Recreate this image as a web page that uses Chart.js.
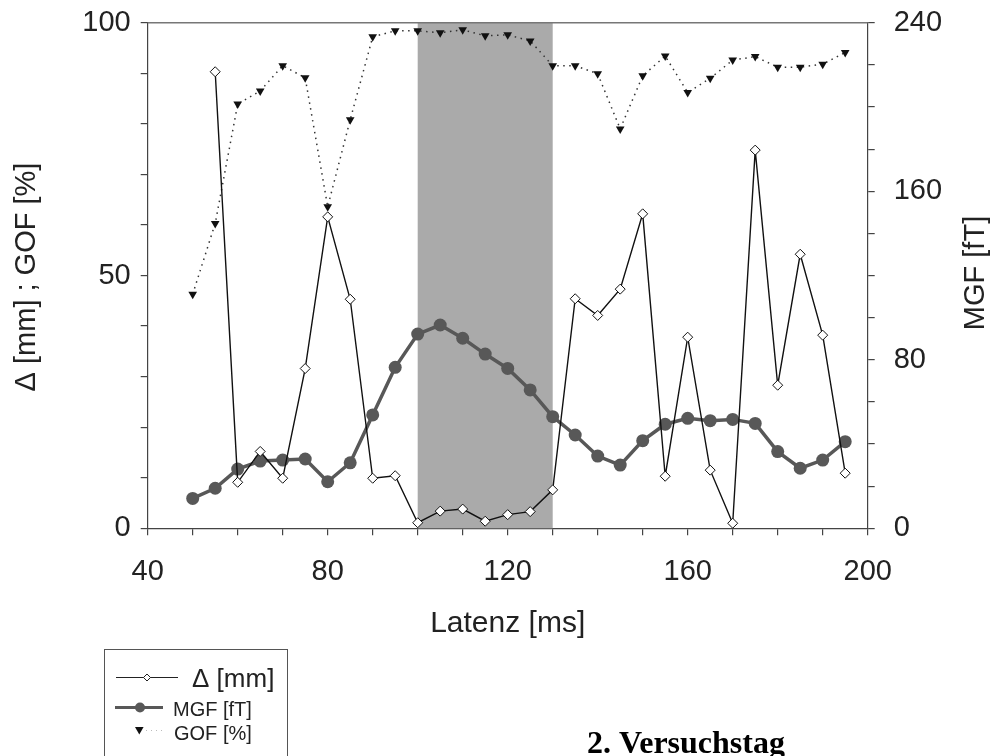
<!DOCTYPE html>
<html>
<head>
<meta charset="utf-8">
<script src="https://cdn.jsdelivr.net/npm/chart.js@4/dist/chart.umd.min.js"></script>
<style>
  html, body { margin: 0; padding: 0; background: #fff; }
  #wrap { width: 994px; height: 756px; position: relative; }
</style>
</head>
<body>
<div id="wrap"><canvas id="chart" width="994" height="756"></canvas></div>
<script>
// Latency steps [ms]
const latency = [50, 55, 60, 65, 70, 75, 80, 85, 90, 95, 100, 105, 110, 115, 120,
                 125, 130, 135, 140, 145, 150, 155, 160, 165, 170, 175, 180, 185, 190, 195];
// Delta [mm] (left axis)
const delta = [null, 90.3, 9.1, 15.2, 9.9, 31.6, 61.6, 45.3, 9.9, 10.4, 1.1, 3.4, 3.8, 1.4, 2.7,
               3.3, 7.6, 45.4, 42.1, 47.3, 62.2, 10.3, 37.8, 11.5, 1.0, 74.8, 28.3, 54.2, 38.2, 10.9];
// MGF [fT] (right axis)
const mgf = [14.2, 19.0, 28.1, 31.9, 32.4, 32.9, 22.1, 31.1, 53.8, 76.4, 92.2, 96.5, 90.2, 82.7, 75.9,
             65.7, 53.0, 44.3, 34.3, 30.0, 41.6, 49.4, 52.2, 51.1, 51.7, 49.8, 36.4, 28.5, 32.4, 41.1];
// GOF [%] (left axis)
const gof = [46.3, 60.3, 83.9, 86.5, 91.5, 89.1, 63.6, 80.8, 97.2, 98.4, 98.4, 98.0, 98.6, 97.4, 97.6,
             96.4, 91.5, 91.5, 89.9, 79.0, 89.5, 93.4, 86.2, 89.0, 92.6, 93.3, 91.2, 91.2, 91.8, 94.1];
// shaded latency window
const bandRange = [100, 130];
// labelled ticks
const xLabels = [40, 80, 120, 160, 200];
const leftLabels = [0, 50, 100];
const rightLabels = [0, 80, 160, 240];

const sans = "'Liberation Sans', Arial, sans-serif";
const toPts = arr => latency.map((x, i) => ({ x, y: arr[i] }));

// grey window + top frame line behind the series
const bandPlugin = {
  id: 'band',
  beforeDatasetsDraw(chart) {
    const { ctx, chartArea, scales } = chart;
    const x0 = scales.x.getPixelForValue(bandRange[0]);
    const x1 = scales.x.getPixelForValue(bandRange[1]);
    ctx.save();
    ctx.fillStyle = '#aaaaaa';
    ctx.fillRect(x0, chartArea.top, x1 - x0, chartArea.bottom - chartArea.top);
    ctx.strokeStyle = '#777';
    ctx.lineWidth = 1.5;
    ctx.beginPath();
    ctx.moveTo(chartArea.left, chartArea.top);
    ctx.lineTo(chartArea.right, chartArea.top);
    ctx.stroke();
    ctx.restore();
  }
};

// axis titles, legend box, caption
const decoPlugin = {
  id: 'deco',
  afterDraw(chart) {
    const { ctx, chartArea } = chart;
    ctx.save();
    ctx.fillStyle = '#222';
    ctx.textAlign = 'center';
    ctx.textBaseline = 'middle';

    ctx.font = '30px ' + sans;
    ctx.fillText('Latenz [ms]', (chartArea.left + chartArea.right) / 2, 624);

    ctx.font = '29px ' + sans;
    ctx.save();
    ctx.translate(27, 277);
    ctx.rotate(-Math.PI / 2);
    ctx.fillText('\u0394 [mm] ; GOF [%]', 0, 0);
    ctx.restore();

    ctx.save();
    ctx.translate(976, 273);
    ctx.rotate(-Math.PI / 2);
    ctx.fillText('MGF [fT]', 0, 0);
    ctx.restore();

    // legend box
    ctx.strokeStyle = '#555';
    ctx.lineWidth = 1;
    ctx.strokeRect(104.5, 649.5, 183, 120);

    // row 1: delta
    ctx.strokeStyle = '#222';
    ctx.lineWidth = 1;
    ctx.beginPath();
    ctx.moveTo(116, 677.5); ctx.lineTo(178, 677.5);
    ctx.stroke();
    ctx.fillStyle = '#fff';
    ctx.beginPath();
    ctx.moveTo(147, 674); ctx.lineTo(150.5, 677.5); ctx.lineTo(147, 681); ctx.lineTo(143.5, 677.5);
    ctx.closePath();
    ctx.fill(); ctx.stroke();

    // row 2: MGF
    ctx.strokeStyle = '#585858';
    ctx.lineWidth = 3;
    ctx.beginPath();
    ctx.moveTo(115, 707.5); ctx.lineTo(163, 707.5);
    ctx.stroke();
    ctx.fillStyle = '#585858';
    ctx.beginPath();
    ctx.arc(140, 707.5, 5, 0, Math.PI * 2);
    ctx.fill();

    // row 3: GOF
    ctx.strokeStyle = '#bbb';
    ctx.lineWidth = 1;
    ctx.setLineDash([1, 4]);
    ctx.beginPath();
    ctx.moveTo(146, 730.5); ctx.lineTo(163, 730.5);
    ctx.stroke();
    ctx.setLineDash([]);
    ctx.fillStyle = '#111';
    ctx.beginPath();
    ctx.moveTo(135, 727); ctx.lineTo(143.6, 727); ctx.lineTo(139.3, 734.5);
    ctx.closePath();
    ctx.fill();

    ctx.fillStyle = '#222';
    ctx.textAlign = 'left';
    ctx.textBaseline = 'alphabetic';
    ctx.font = '26px ' + sans;
    ctx.fillText('\u0394 [mm]', 192, 687);
    ctx.font = '20px ' + sans;
    ctx.fillText('MGF [fT]', 173, 716);
    ctx.fillText('GOF [%]', 174, 740);

    ctx.fillStyle = '#000';
    ctx.font = "bold 32px 'Liberation Serif', 'Times New Roman', serif";
    ctx.fillText('2. Versuchstag', 587, 753);
    ctx.restore();
  }
};

const axisLine = { display: true, color: '#444', width: 1.2 };
const tickGrid = { drawOnChartArea: false, drawTicks: true, tickLength: 7, color: '#444', lineWidth: 1.2 };
const fitY = w => s => { s.width = w; s.paddingTop = 22.7; s.paddingBottom = 0; };

new Chart(document.getElementById('chart'), {
  type: 'line',
  data: {
    datasets: [
      {
        label: '\u0394 [mm]',
        data: toPts(delta),
        yAxisID: 'y',
        borderColor: '#111',
        borderWidth: 1.4,
        pointStyle: 'rectRot',
        pointRadius: 5,
        pointBackgroundColor: '#fff',
        pointBorderColor: '#111',
        pointBorderWidth: 1,
        tension: 0
      },
      {
        label: 'MGF [fT]',
        data: toPts(mgf),
        yAxisID: 'y2',
        borderColor: '#585858',
        borderWidth: 3.5,
        pointStyle: 'circle',
        pointRadius: 6.5,
        pointBackgroundColor: '#585858',
        pointBorderColor: '#585858',
        pointBorderWidth: 0,
        tension: 0
      },
      {
        label: 'GOF [%]',
        data: toPts(gof),
        yAxisID: 'y',
        borderColor: '#333',
        borderWidth: 1.5,
        borderDash: [1.5, 4.5],
        pointStyle: 'triangle',
        rotation: 180,
        pointRadius: 5,
        pointBackgroundColor: '#111',
        pointBorderColor: '#111',
        pointBorderWidth: 0,
        tension: 0
      }
    ]
  },
  options: {
    responsive: false,
    animation: false,
    layout: { padding: 0 },
    plugins: { legend: { display: false }, tooltip: { enabled: false } },
    scales: {
      x: {
        type: 'linear',
        min: 40, max: 200,
        border: axisLine,
        grid: tickGrid,
        ticks: {
          stepSize: 10, autoSkip: false, maxRotation: 0, padding: 19,
          color: '#222', font: { family: sans, size: 29 },
          callback: v => xLabels.includes(v) ? String(v) : ''
        },
        afterFit: s => { s.height = 227.7; }
      },
      y: {
        position: 'left',
        min: 0, max: 100,
        border: axisLine,
        grid: tickGrid,
        ticks: {
          stepSize: 10, autoSkip: false, padding: 10,
          color: '#222', font: { family: sans, size: 29 },
          callback: v => leftLabels.includes(v) ? String(v) : ''
        },
        afterFit: fitY(147.7)
      },
      y2: {
        position: 'right',
        min: 0, max: 240,
        border: axisLine,
        grid: tickGrid,
        ticks: {
          stepSize: 20, autoSkip: false, padding: 19,
          color: '#222', font: { family: sans, size: 29 },
          callback: v => rightLabels.includes(v) ? String(v) : ''
        },
        afterFit: fitY(126.3)
      }
    }
  },
  plugins: [bandPlugin, decoPlugin]
});
</script>
</body>
</html>
